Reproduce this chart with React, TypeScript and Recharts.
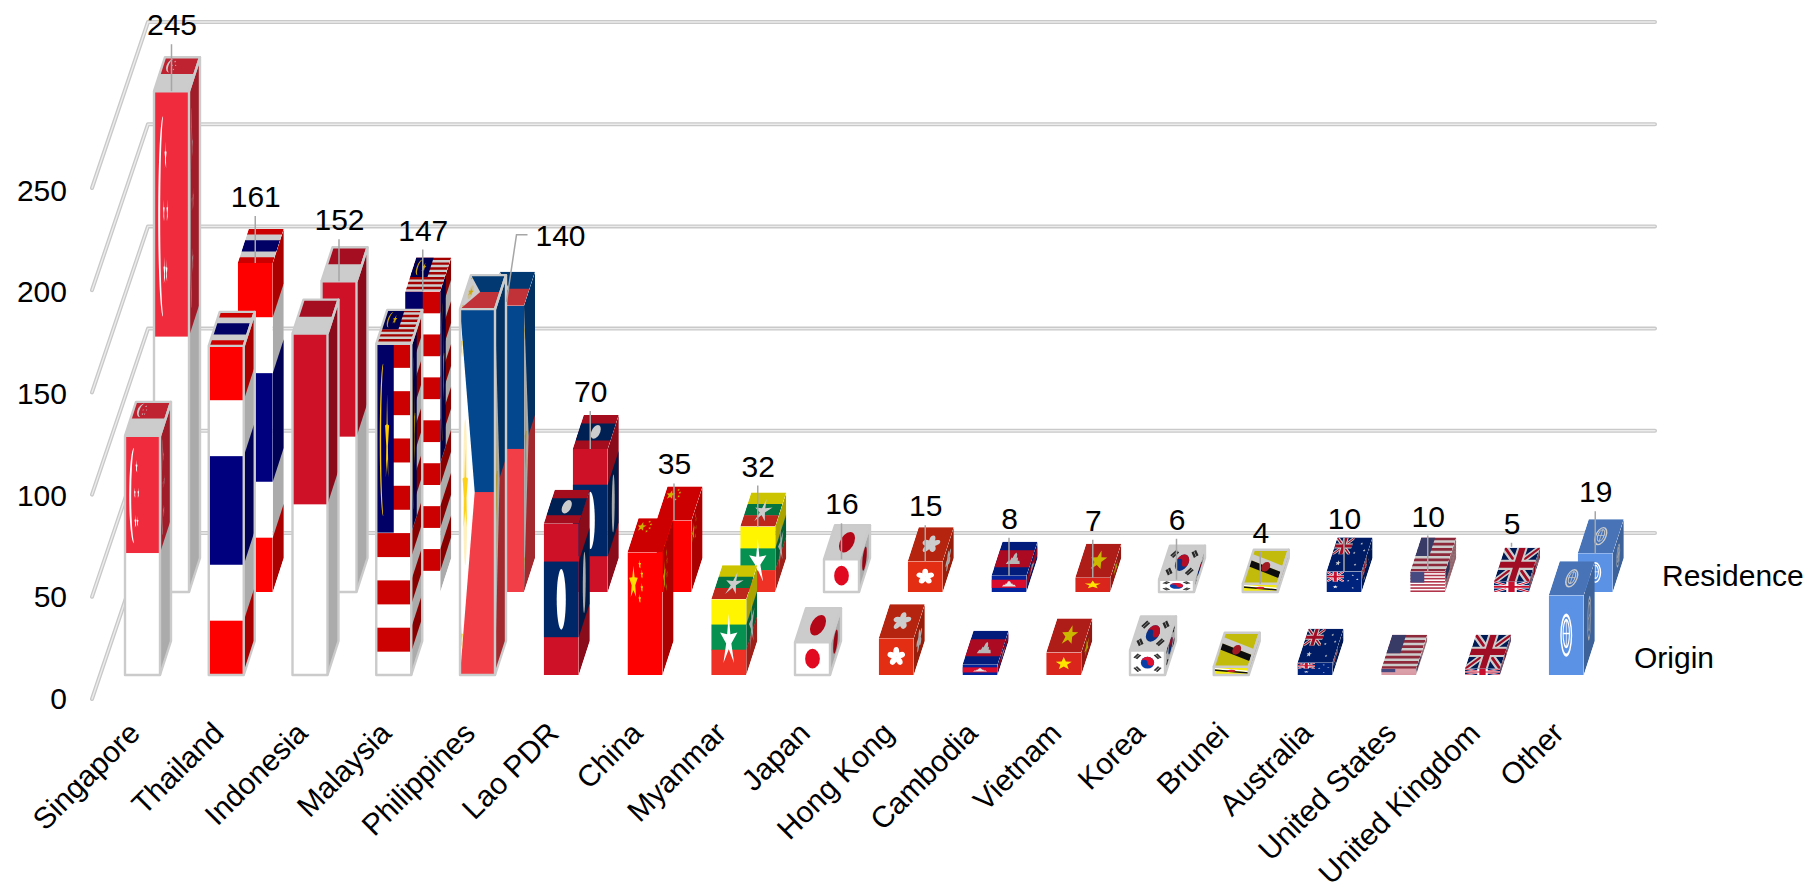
import React from 'react';
import { Bar, BarChart, CartesianGrid, LabelList, XAxis, YAxis } from 'recharts';

const categories = [
  'Singapore', 'Thailand', 'Indonesia', 'Malaysia', 'Philippines', 'Lao PDR', 'China', 'Myanmar', 'Japan',
  'Hong Kong', 'Cambodia', 'Vietnam', 'Korea', 'Brunei', 'Australia', 'United States', 'United Kingdom', 'Other',
];
const originValues = [117, 161, 167, 162, 179, 74, 60, 37, 16, 18, 5, 11, 12, 4, 6, 3, 3, 39];
const residenceValues = [245, 161, 152, 147, 140, 70, 35, 32, 16, 15, 8, 7, 6, 4, 10, 10, 5, 19];
const yTicks = [0, 50, 100, 150, 200, 250];
const seriesNames = ['Residence', 'Origin'];

// boxes that carry a pale edge, one list per row
const outlinedOrigin = ['Singapore', 'Thailand', 'Indonesia', 'Malaysia', 'Philippines', 'Japan', 'Korea', 'Brunei'];
const outlinedResidence = ['Singapore', 'Indonesia', 'Japan', 'Korea', 'Brunei'];
// how far each value label floats above its box
const labelLifts = [67, 67, 62, 62, 0, 58, 57, 61, 56, 56, 58, 58, 61, 52, 54, 56, 59, 62];

const chartData = categories.map((name, i) => ({
  name,
  origin: originValues[i],
  residence: residenceValues[i],
}));

const FONT = '"Liberation Sans", Arial, sans-serif';
const BOX_DX = 11;
const BOX_DY = 34;
const WALL_DX = 56;
const WALL_DY = 165;
const GRID_RIGHT = 1655;

const star = (cx: number, cy: number, rx: number, ry = rx, inner = 0.42) => {
  const pts: string[] = [];
  for (let i = 0; i < 10; i += 1) {
    const r = i % 2 === 0 ? 1 : inner;
    const a = -Math.PI / 2 + (i * Math.PI) / 5;
    pts.push(`${cx + Math.cos(a) * rx * r},${cy + Math.sin(a) * ry * r}`);
  }
  return pts.join(' ');
};

const UnionJack = ({ clip }: { clip: string }) => (
  <g clipPath={`url(#${clip})`}>
    <rect width="100" height="100" fill="#012169" />
    <path d="M0 0L100 100M100 0L0 100" stroke="#fff" strokeWidth="18" />
    <path d="M0 0L100 100M100 0L0 100" stroke="#c8102e" strokeWidth="7" />
    <path d="M50 0V100M0 50H100" stroke="#fff" strokeWidth="30" />
    <path d="M50 0V100M0 50H100" stroke="#c8102e" strokeWidth="18" />
  </g>
);

const stripes = (count: number, color: string) =>
  Array.from({ length: count }, (_, i) =>
    i % 2 === 0 ? <rect key={i} y={(i * 100) / count} width="100" height={100 / count + 0.1} fill={color} /> : null
  );

// flag artwork, every flag is drawn stretched over a 100 x 100 square
const flags: Record<string, () => React.ReactNode> = {
  Singapore: () => (
    <>
      <rect width="100" height="100" fill="#fff" />
      <rect width="100" height="49" fill="#ef2b3d" />
      <path d="M26 5A14 20 0 0 0 26 45A12 21 0 0 1 26 5Z" fill="#fff" />
      <polygon points={star(33, 13, 3)} fill="#fff" />
      <polygon points={star(28, 24, 2.5)} fill="#fff" />
      <polygon points={star(38, 24, 2.5)} fill="#fff" />
      <polygon points={star(30, 36, 3)} fill="#fff" />
      <polygon points={star(36, 36, 2.5)} fill="#fff" />
    </>
  ),
  Thailand: () => (
    <>
      <rect width="100" height="100" fill="#fff" />
      <rect width="100" height="16.5" fill="#ff0000" />
      <rect y="83.5" width="100" height="16.5" fill="#ff0000" />
      <rect y="33.5" width="100" height="33" fill="#00007f" />
    </>
  ),
  Indonesia: () => (
    <>
      <rect width="100" height="100" fill="#fff" />
      <rect width="100" height="50" fill="#cf1128" />
    </>
  ),
  Malaysia: () => (
    <>
      <rect width="100" height="100" fill="#fff" />
      {stripes(14, '#cc0000')}
      <rect width="50" height="57" fill="#000066" />
      <path d="M20 6A10 23 0 0 0 20 52A10 25 0 0 1 20 6Z" fill="#ffcc00" />
      <polygon points={star(31, 29, 6, 14)} fill="#ffcc00" />
    </>
  ),
  Philippines: () => (
    <>
      <rect width="100" height="51" fill="#03488f" />
      <rect y="50" width="100" height="50" fill="#f23f47" />
      <polygon points="0,0 42,50 0,100" fill="#fff" />
      <ellipse cx="15" cy="50" rx="6" ry="20" fill="#fff0c0" />
      <polygon points={star(15, 50, 8, 12)} fill="#fcd116" />
      <polygon points={star(5, 10, 3, 4)} fill="#fcd116" />
      <polygon points={star(5, 90, 3, 4)} fill="#fcd116" />
    </>
  ),
  'Lao PDR': () => (
    <>
      <rect width="100" height="100" fill="#ce1126" />
      <rect y="25" width="100" height="50" fill="#002868" />
      <ellipse cx="50" cy="50" rx="13" ry="20" fill="#fff" />
    </>
  ),
  China: () => (
    <>
      <rect width="100" height="100" fill="#ff0000" />
      <polygon points={star(17, 25, 13, 14)} fill="#ffde00" />
      <polygon points={star(35, 10, 4, 4)} fill="#ffde00" />
      <polygon points={star(41, 18, 4, 4)} fill="#ffde00" />
      <polygon points={star(41, 29, 4, 4)} fill="#ffde00" />
      <polygon points={star(35, 38, 4, 4)} fill="#ffde00" />
    </>
  ),
  Myanmar: () => (
    <>
      <rect width="100" height="34" fill="#fff500" />
      <rect y="33.3" width="100" height="34" fill="#079150" />
      <rect y="66.6" width="100" height="33.4" fill="#ee3124" />
      <polygon points={star(50, 55, 26, 36, 0.3)} fill="#fff" />
    </>
  ),
  Japan: () => (
    <>
      <rect width="100" height="100" fill="#fff" />
      <ellipse cx="50" cy="50" rx="21" ry="30" fill="#e0091f" />
    </>
  ),
  'Hong Kong': () => (
    <>
      <rect width="100" height="100" fill="#e32e13" />
      {[0, 72, 144, 216, 288].map((a) => (
        <ellipse key={a} cx="50" cy="37" rx="8.5" ry="13" fill="#fff" transform={`rotate(${a} 50 50)`} />
      ))}
    </>
  ),
  Cambodia: () => (
    <>
      <rect width="100" height="100" fill="#03249c" />
      <rect y="25" width="100" height="50" fill="#d80c2c" />
      <polygon points="30,66 70,66 66,56 61,56 59,46 56,49 54,38 50,32 46,38 44,49 41,46 39,56 34,56" fill="#e4e4e4" />
    </>
  ),
  Vietnam: () => (
    <>
      <rect width="100" height="100" fill="#da251d" />
      <polygon points={star(50, 50, 24, 30)} fill="#ffe500" />
    </>
  ),
  Korea: () => (
    <>
      <rect width="100" height="100" fill="#fff" />
      <ellipse cx="50" cy="50" rx="19" ry="24" fill="#0a3fa8" />
      <path d="M31 50A19 24 0 0 1 69 50A9.5 12 0 0 1 50 50A9.5 12 0 0 0 31 50Z" fill="#e0102f" />
      <g stroke="#333" strokeWidth="6">
        <path d="M12 30L24 14M18 34L30 18" />
        <path d="M76 14L88 30M70 18L82 34" />
        <path d="M12 70L24 86M18 66L30 82" />
        <path d="M76 86L88 70M70 82L82 66" />
      </g>
    </>
  ),
  Brunei: () => (
    <>
      <rect width="100" height="100" fill="#f4ea10" />
      <polygon points="0,12 100,48 100,66 0,30" fill="#fff" />
      <polygon points="0,30 100,66 100,84 0,48" fill="#111" />
      <ellipse cx="50" cy="50" rx="12" ry="14" fill="#c8202c" />
    </>
  ),
  Australia: () => (
    <>
      <rect width="100" height="100" fill="#00247d" />
      <g transform="scale(0.5)">
        <UnionJack clip="unitClip" />
      </g>
      <polygon points={star(25, 75, 8)} fill="#fff" />
      <polygon points={star(75, 18, 4)} fill="#fff" />
      <polygon points={star(62, 45, 4)} fill="#fff" />
      <polygon points={star(88, 38, 4)} fill="#fff" />
      <polygon points={star(75, 80, 4)} fill="#fff" />
    </>
  ),
  'United States': () => (
    <>
      <rect width="100" height="100" fill="#fff" />
      {stripes(13, '#b2344a')}
      <rect width="40" height="54" fill="#474a80" />
    </>
  ),
  'United Kingdom': () => <UnionJack clip="unitClip" />,
  Other: () => (
    <>
      <rect width="100" height="100" fill="#5b92e5" />
      <g fill="none" stroke="#fff">
        <ellipse cx="50" cy="50" rx="15" ry="25" strokeWidth="4" />
        <ellipse cx="50" cy="48" rx="9" ry="17" strokeWidth="3" />
        <path d="M50 31V65M41 48H59" strokeWidth="2" />
      </g>
    </>
  ),
};

const Face = ({
  matrix,
  shade,
  children,
}: {
  matrix: number[];
  shade: number;
  children: React.ReactNode;
}) => (
  <g transform={`matrix(${matrix.map((v) => v.toFixed(4)).join(' ')})`}>
    <g clipPath="url(#unitClip)">
      {children}
      {shade > 0 ? <rect width="100" height="100" fill="#000" opacity={shade} /> : null}
    </g>
  </g>
);

// draws one flag-wrapped box, the shift moves it back along the depth axis
const FlagBox = (props: any) => {
  const { x, y, width, height, payload, shiftX, shiftY, outlined } = props;
  const left = x + shiftX;
  const top = y + shiftY;
  const art = flags[payload.name]();
  const right = left + width;
  const bottom = top + height;
  const frontPath = `M${left} ${top}H${right}V${bottom}H${left}Z`;
  const topPath = `M${left} ${top}L${left + BOX_DX} ${top - BOX_DY}H${right + BOX_DX}L${right} ${top}`;
  const sidePath = `M${right} ${top}L${right + BOX_DX} ${top - BOX_DY}V${bottom - BOX_DY}L${right} ${bottom}`;
  return (
    <g>
      <Face matrix={[width / 100, 0, -BOX_DX / 100, BOX_DY / 100, left + BOX_DX, top - BOX_DY]} shade={0.2}>
        {art}
      </Face>
      <Face matrix={[BOX_DX / 100, -BOX_DY / 100, 0, height / 100, right, top]} shade={0.33}>
        {art}
      </Face>
      <Face matrix={[width / 100, 0, 0, height / 100, left, top]} shade={0}>
        {art}
      </Face>
      {outlined ? (
        <g fill="none" stroke="#cbcbcb" strokeWidth="2.4" strokeLinejoin="round">
          <path d={topPath} />
          <path d={sidePath} />
          <path d={frontPath} />
        </g>
      ) : null}
    </g>
  );
};

const ORIGIN_SHIFT = { shiftX: 0, shiftY: -23 };
const RESIDENCE_SHIFT = { shiftX: 29, shiftY: -106 };

const WallLine = (props: any) => {
  const { y1 } = props;
  const backX = 92 + WALL_DX;
  const backY = y1 - WALL_DY;
  const d = `M92 ${y1 + 1}L${backX} ${backY}H${GRID_RIGHT}`;
  return (
    <g fill="none" strokeLinecap="round" strokeLinejoin="round">
      <path d={d} stroke="#c9c9c9" strokeWidth="4" />
      <path d={d} stroke="#ececec" strokeWidth="1.4" />
    </g>
  );
};

const ValueLabel = (props: any) => {
  const { x, y, width, value, index } = props;
  const cx = x + width / 2 + RESIDENCE_SHIFT.shiftX;
  const frontTop = y + RESIDENCE_SHIFT.shiftY;
  const textStyle = { fontFamily: FONT, fontSize: 30, fill: '#000' };
  if (categories[index] === 'Philippines') {
    // this label sits off to the side with a bent leader
    return (
      <g>
        <path d={`M${cx + 21} ${frontTop - 71}H${cx + 10}L${cx} ${frontTop - 4}`} fill="none" stroke="#a6a6a6" strokeWidth="1.5" />
        <text x={cx + 54} y={frontTop - 60} textAnchor="middle" style={textStyle}>
          {value}
        </text>
      </g>
    );
  }
  const lift = labelLifts[index];
  const leaderTop = frontTop - lift + 20;
  const leaderEnd = categories[index] === 'United Kingdom' ? leaderTop + 4 : frontTop;
  return (
    <g>
      <path d={`M${cx} ${leaderTop}V${leaderEnd}`} stroke="#a6a6a6" strokeWidth="1.5" />
      <text x={cx + 0.5} y={frontTop - lift + 11} textAnchor="middle" style={textStyle}>
        {value}
      </text>
    </g>
  );
};

const ValueTick = (props: any) => {
  const { x, y, payload } = props;
  // tick labels sit on a slightly tighter spacing than the wall lines
  const ty = 190 + (y - 187) * 0.995;
  return (
    <text x={x} y={ty + 10.5} textAnchor="end" style={{ fontFamily: FONT, fontSize: 30, fill: '#000' }}>
      {payload.value}
    </text>
  );
};

const CategoryTick = (props: any) => {
  const { x, y, payload } = props;
  const tx = x - 1;
  const ty = y + 29;
  return (
    <text
      x={tx}
      y={ty}
      textAnchor="end"
      transform={`rotate(-45 ${tx} ${ty})`}
      style={{ fontFamily: FONT, fontSize: 30, fill: '#000' }}
    >
      {payload.value}
    </text>
  );
};

export default function App() {
  return (
    <div style={{ position: 'absolute', left: 0, top: 0, width: 1810, height: 888, background: '#fff' }}>
      <BarChart
        width={1810}
        height={888}
        data={chartData}
        barSize={35}
        barGap={-35}
        margin={{ top: 187, right: 201.5, bottom: 0, left: 1 }}
      >
        <defs>
          <clipPath id="unitClip">
            <rect width="100" height="100" />
          </clipPath>
        </defs>
        <CartesianGrid vertical={false} horizontal={(p: any) => <WallLine key={p.key ?? p.y1} {...p} />} />
        <XAxis dataKey="name" interval={0} height={190} axisLine={false} tickLine={false} tick={<CategoryTick />} />
        <YAxis
          width={100}
          domain={[0, 250]}
          ticks={yTicks}
          axisLine={false}
          tickLine={false}
          tickMargin={28}
          tick={<ValueTick />}
        />
        <Bar
          dataKey="residence"
          isAnimationActive={false}
          shape={(p: any) => (
            <FlagBox {...p} {...RESIDENCE_SHIFT} outlined={outlinedResidence.includes(p.payload.name)} />
          )}
        >
          <LabelList dataKey="residence" content={<ValueLabel />} />
        </Bar>
        <Bar
          dataKey="origin"
          isAnimationActive={false}
          shape={(p: any) => <FlagBox {...p} {...ORIGIN_SHIFT} outlined={outlinedOrigin.includes(p.payload.name)} />}
        />
        <text x={1662} y={586} style={{ fontFamily: FONT, fontSize: 30, fill: '#000' }}>
          {seriesNames[0]}
        </text>
        <text x={1634} y={668} style={{ fontFamily: FONT, fontSize: 30, fill: '#000' }}>
          {seriesNames[1]}
        </text>
      </BarChart>
    </div>
  );
}
